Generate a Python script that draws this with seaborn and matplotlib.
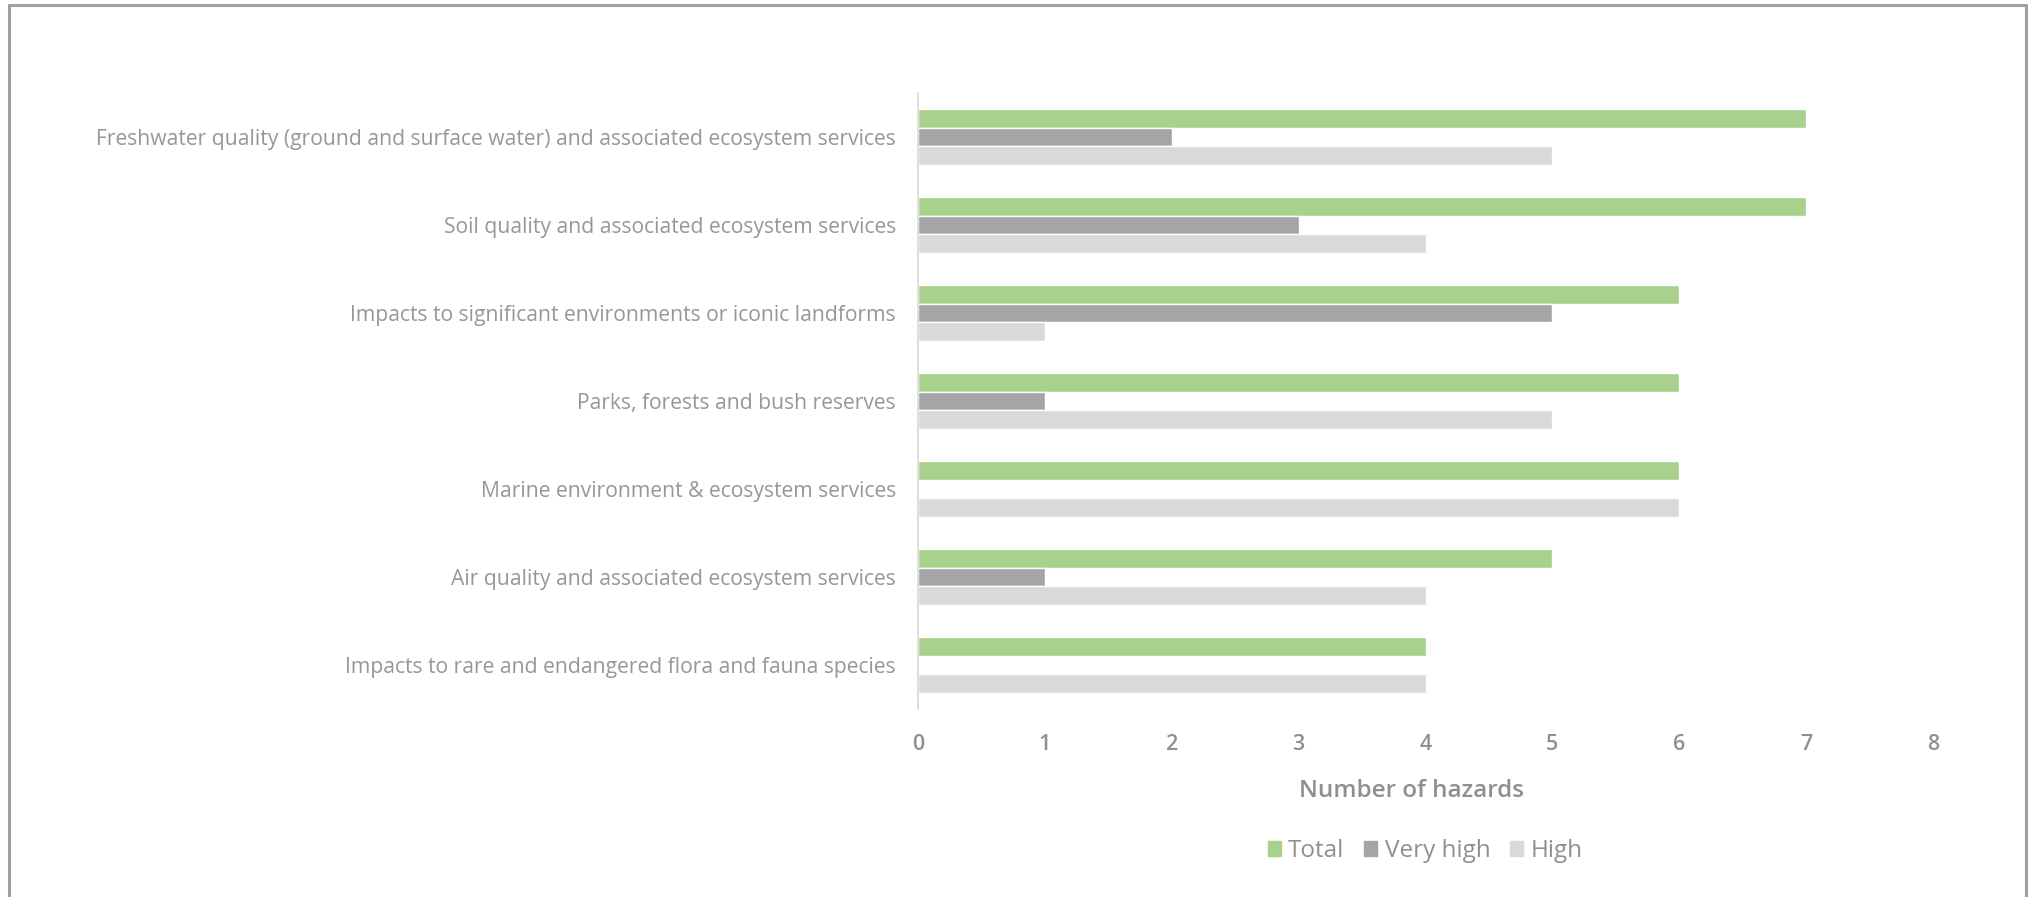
import seaborn as sns
import matplotlib.pyplot as plt
import pandas as pd
from matplotlib.lines import Line2D

# Categories (top to bottom) and the three series
categories = [
    "Freshwater quality (ground and surface water) and associated ecosystem services",
    "Soil quality and associated ecosystem services",
    "Impacts to significant environments or iconic landforms",
    "Parks, forests and bush reserves",
    "Marine environment & ecosystem services",
    "Air quality and associated ecosystem services",
    "Impacts to rare and endangered flora and fauna species",
]
total = [7, 7, 6, 6, 6, 5, 4]
very_high = [2, 3, 5, 1, 0, 1, 0]
high = [5, 4, 1, 5, 6, 4, 4]
series_names = ["Total", "Very high", "High"]
colors = ["#A9D18E", "#A5A5A5", "#D9D9D9"]

df = pd.DataFrame({"category": categories, "Total": total,
                   "Very high": very_high, "High": high})
long_df = df.melt(id_vars="category", var_name="level", value_name="count")

sns.set_style("white")
plt.rcParams["font.family"] = ["Open Sans", "DejaVu Sans"]
text_gray = "#8F8F8F"

fig = plt.figure(figsize=(20.33, 8.97), dpi=100)
ax = fig.add_axes([0.4516, 0.2096, 0.4992, 0.6867])

sns.barplot(data=long_df, y="category", x="count", hue="level",
            hue_order=series_names, order=categories, palette=colors,
            orient="h", width=0.63, gap=0, saturation=1, ax=ax, legend=False)

ax.set_xlim(0, 8)
ax.set_ylim(len(categories) - 0.5, -0.5)
ax.set_xticks(range(0, 9))
ax.tick_params(axis="x", length=0, pad=18, labelsize=15.5, labelcolor=text_gray)
for lbl in ax.get_xticklabels():
    lbl.set_fontweight("semibold")
ax.tick_params(axis="y", which="major", length=0, pad=16, labelsize=15.2,
               labelcolor="#979797")
ax.set_yticks([i - 0.5 for i in range(len(categories) + 1)], minor=True)
ax.tick_params(axis="y", which="minor", length=6, color="#D9D9D9", width=1.2)

for side in ["top", "right", "bottom"]:
    ax.spines[side].set_visible(False)
ax.spines["left"].set_color("#D9D9D9")
ax.spines["left"].set_linewidth(1.2)

ax.set_ylabel("")
ax.set_xlabel("Number of hazards", fontsize=17.5, color=text_gray,
              fontweight="semibold")
ax.xaxis.set_label_coords(0.486, -0.113)

handles = [plt.Rectangle((0, 0), 1, 1, color=c) for c in colors]
fig.legend(handles, series_names, loc="center", bbox_to_anchor=(0.701, 0.051),
           ncol=3, frameon=False, fontsize=17.5, labelcolor=text_gray,
           handlelength=0.55, handleheight=0.55, handletextpad=0.3,
           columnspacing=0.8)

# outer frame (left, top, right)
frame_color = "#A0A0A0"
fig.add_artist(Line2D([0.0045, 0.0045], [0.0, 0.9945], transform=fig.transFigure,
                      color=frame_color, lw=2.2))
fig.add_artist(Line2D([0.0045, 0.9965], [0.9945, 0.9945], transform=fig.transFigure,
                      color=frame_color, lw=2.2))
fig.add_artist(Line2D([0.9965, 0.9965], [0.0, 0.9945], transform=fig.transFigure,
                      color=frame_color, lw=2.2))

fig.savefig("out.png", dpi=100)
